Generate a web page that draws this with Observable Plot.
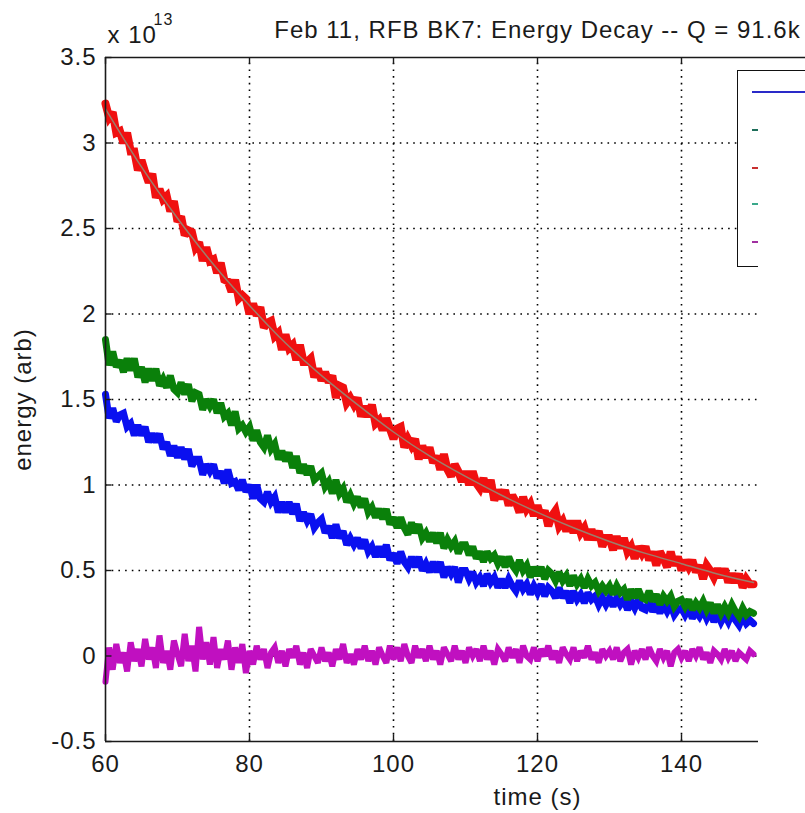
<!DOCTYPE html>
<html>
<head>
<meta charset="utf-8">
<script src="https://cdn.jsdelivr.net/npm/d3@7"></script>
<script src="https://cdn.jsdelivr.net/npm/@observablehq/plot@0.6"></script>
<style>
html,body{margin:0;padding:0;background:#fff;overflow:hidden}
#wrap{position:relative;width:805px;height:813px;overflow:hidden;background:#fff}
#legend{position:absolute;left:737px;top:70px;width:140px;height:197px;border:1.5px solid #111;background:#fff;box-sizing:border-box}
.lg{position:absolute;left:13.5px;height:2px}
#cover{position:absolute;left:758px;top:125px;width:80px;height:720px;background:#fff}
</style>
</head>
<body>
<div id="wrap"></div>
<script>
// ---- data ----
const timeStart = 60;      // s
const timeStep = 0.5;      // s between samples
const red = [
3.23,3.15,3.18,3.06,3.07,3.00,3.06,2.95,2.95,2.84,
2.90,2.83,2.77,2.82,2.68,2.73,2.67,2.69,2.60,2.66,
2.54,2.57,2.46,2.49,2.48,2.39,2.42,2.31,2.39,2.31,
2.32,2.24,2.30,2.20,2.19,2.13,2.20,2.09,2.11,2.09,
2.00,2.06,1.99,2.04,1.92,1.95,1.96,1.87,1.89,1.79,
1.88,1.80,1.82,1.73,1.82,1.72,1.72,1.74,1.63,1.68,
1.61,1.66,1.60,1.64,1.51,1.58,1.57,1.48,1.51,1.47,
1.51,1.40,1.46,1.40,1.47,1.36,1.38,1.32,1.39,1.33,
1.27,1.33,1.34,1.22,1.27,1.23,1.27,1.15,1.23,1.16,
1.22,1.13,1.17,1.09,1.18,1.09,1.05,1.12,1.08,1.02,
1.08,1.00,1.08,1.01,0.98,1.04,0.96,1.03,0.91,0.97,
0.92,0.97,0.88,0.94,0.90,0.84,0.93,0.86,0.89,0.82,
0.88,0.81,0.85,0.76,0.82,0.85,0.76,0.79,0.73,0.79,
0.72,0.79,0.72,0.75,0.68,0.74,0.68,0.73,0.64,0.69,
0.69,0.62,0.70,0.63,0.69,0.61,0.64,0.57,0.64,0.60,
0.64,0.56,0.61,0.53,0.61,0.57,0.52,0.61,0.53,0.58,
0.50,0.56,0.52,0.56,0.49,0.53,0.45,0.53,0.50,0.46,
0.51,0.46,0.51,0.43,0.48,0.43,0.48,0.40,0.45,0.42,
0.42];
const blue = [
1.53,1.39,1.45,1.37,1.41,1.42,1.34,1.36,1.29,1.35,
1.29,1.34,1.25,1.30,1.25,1.30,1.21,1.25,1.17,1.23,
1.16,1.22,1.15,1.21,1.11,1.15,1.15,1.06,1.12,1.08,
1.12,1.04,1.08,1.01,1.09,1.01,1.02,0.97,1.03,0.96,
1.00,0.92,1.00,0.92,0.90,0.96,0.90,0.93,0.84,0.90,
0.84,0.90,0.83,0.89,0.79,0.84,0.79,0.83,0.75,0.78,
0.80,0.72,0.76,0.69,0.77,0.69,0.73,0.65,0.69,0.65,
0.69,0.63,0.68,0.61,0.64,0.58,0.64,0.58,0.65,0.56,
0.60,0.54,0.61,0.55,0.52,0.58,0.52,0.58,0.50,0.54,
0.49,0.55,0.49,0.55,0.46,0.52,0.48,0.52,0.43,0.50,
0.50,0.45,0.49,0.43,0.46,0.41,0.48,0.43,0.46,0.40,
0.45,0.40,0.45,0.41,0.38,0.44,0.39,0.42,0.36,0.41,
0.37,0.42,0.35,0.40,0.38,0.34,0.40,0.34,0.38,0.31,
0.38,0.33,0.36,0.31,0.37,0.33,0.35,0.30,0.34,0.30,
0.34,0.29,0.34,0.30,0.33,0.27,0.32,0.28,0.33,0.28,
0.27,0.32,0.26,0.30,0.25,0.30,0.26,0.30,0.24,0.27,
0.28,0.24,0.28,0.22,0.26,0.23,0.27,0.22,0.26,0.20,
0.25,0.20,0.24,0.20,0.25,0.21,0.18,0.23,0.19,0.21,
0.19];
const green = [
1.85,1.70,1.78,1.69,1.73,1.66,1.74,1.67,1.74,1.63,
1.69,1.60,1.68,1.61,1.68,1.58,1.62,1.57,1.64,1.56,
1.54,1.60,1.53,1.59,1.49,1.54,1.53,1.44,1.50,1.46,
1.50,1.42,1.48,1.40,1.42,1.35,1.43,1.33,1.35,1.31,
1.34,1.26,1.32,1.25,1.22,1.29,1.21,1.24,1.15,1.20,
1.14,1.19,1.10,1.17,1.07,1.12,1.06,1.11,1.03,1.05,
1.07,0.99,1.02,0.95,1.03,0.95,0.98,0.90,0.94,0.89,
0.93,0.87,0.92,0.84,0.87,0.81,0.86,0.80,0.86,0.77,
0.81,0.75,0.81,0.75,0.71,0.78,0.72,0.77,0.69,0.72,
0.67,0.72,0.66,0.72,0.63,0.68,0.64,0.67,0.60,0.65,
0.65,0.59,0.64,0.57,0.61,0.55,0.61,0.57,0.59,0.54,
0.58,0.52,0.58,0.53,0.50,0.56,0.50,0.53,0.46,0.52,
0.47,0.52,0.45,0.50,0.48,0.44,0.49,0.44,0.47,0.41,
0.47,0.42,0.45,0.40,0.45,0.41,0.43,0.38,0.41,0.38,
0.41,0.36,0.41,0.37,0.39,0.33,0.39,0.34,0.39,0.34,
0.33,0.38,0.32,0.36,0.30,0.35,0.32,0.35,0.29,0.32,
0.33,0.29,0.33,0.27,0.31,0.28,0.32,0.27,0.31,0.25,
0.30,0.25,0.29,0.25,0.30,0.26,0.23,0.28,0.24,0.26,
0.25];
const magenta = [
-0.15,0.05,-0.08,0.07,-0.04,0.02,-0.09,0.08,-0.03,0.04,
-0.06,0.10,-0.02,0.05,-0.07,0.12,-0.04,0.03,-0.08,0.09,
0.01,-0.06,0.13,-0.03,0.06,-0.09,0.17,-0.02,0.08,-0.05,
0.11,-0.07,0.04,-0.02,0.09,-0.08,0.05,-0.04,0.07,-0.10,
0.03,-0.05,0.06,-0.02,0.04,-0.07,0.02,0.05,-0.04,0.03,
-0.06,0.04,-0.01,0.06,-0.05,0.02,-0.07,0.04,0.00,-0.04,
0.05,-0.03,0.02,-0.06,0.04,-0.02,0.07,-0.04,0.01,-0.05,
0.04,-0.02,0.06,-0.03,0.03,-0.05,0.05,0.00,-0.04,0.06,
-0.02,0.05,-0.03,0.07,0.00,-0.04,0.06,-0.01,0.04,-0.03,
0.06,-0.02,0.03,-0.05,0.05,0.01,-0.03,0.06,-0.02,0.03,
-0.04,0.05,0.00,0.04,-0.03,0.06,-0.02,0.03,-0.05,0.04,
0.01,-0.03,0.05,-0.01,0.04,-0.04,0.06,0.00,-0.02,0.05,
-0.03,0.04,0.00,0.06,-0.02,0.03,-0.04,0.05,0.01,-0.02,
0.05,-0.03,0.03,-0.01,0.06,-0.02,0.02,-0.04,0.04,0.00,
0.03,-0.02,0.05,-0.03,0.02,0.04,-0.05,0.03,-0.01,0.04,
-0.02,0.05,0.00,-0.03,0.04,-0.01,0.03,-0.06,0.02,0.04,
-0.01,0.03,-0.03,0.04,0.00,0.05,-0.02,0.02,-0.04,0.03,
0.01,-0.02,0.04,-0.01,0.03,-0.03,0.02,0.00,-0.02,0.03,
0.01];
const fitTime = [60,65,70,75,80,85,90,95,100,105,110,115,120,125,130,135,140,145,150];
const redFit  = [3.20,2.86,2.56,2.29,2.05,1.83,1.64,1.47,1.31,1.17,1.05,0.94,0.84,0.75,0.67,0.60,0.54,0.48,0.43];
const yTicks = [-0.5,0,0.5,1,1.5,2,2.5,3,3.5];
const yTickLabels = ["-0.5","0","0.5","1","1.5","2","2.5","3","3.5"];
const xTicks = [60,80,100,120,140];
const xTickLabels = ["60","80","100","120","140"];
const titleText = "Feb 11, RFB BK7: Energy Decay -- Q = 91.6k";
const xLabel = "time (s)";
const yLabel = "energy (arb)";
const legendColors = ["#2a2ac8","#1e6e5a","#c83030","#3aa88a","#a030a0"];

// ---- build rows ----
const rows = (arr) => arr.map((v, i) => ({t: timeStart + i * timeStep, v}));
const fitRows = fitTime.map((t, i) => ({t, v: redFit[i]}));

const FONT = "'Liberation Sans', Arial, Helvetica, sans-serif";
const ink = "#1a1a1a";
const grid = {stroke: "#000", strokeWidth: 1.6, strokeDasharray: "1.6,5.1"};
const band = {x: "t", y: "v", strokeLinejoin: "miter", strokeMiterlimit: 2.5};

const chart = Plot.plot({
  width: 805,
  height: 813,
  marginTop: 57,
  marginBottom: 72,
  marginLeft: 105,
  marginRight: 0,
  x: {domain: [60, 180], range: [105, 969], axis: null},
  y: {domain: [-0.5, 3.5], axis: null},
  style: {fontFamily: FONT, fontSize: "24px", letterSpacing: "1px", background: "#fff", color: ink},
  marks: [
    // dotted grid
    Plot.ruleY(yTicks.slice(1, -1), {x1: 60, x2: 150.6, ...grid}),
    Plot.ruleX(xTicks.slice(1), {y1: -0.5, y2: 3.5, ...grid}),
    // data
    Plot.line(rows(blue), {...band, stroke: "#0a10f0", strokeWidth: 7}),
    Plot.line(rows(green), {...band, stroke: "#0a800a", strokeWidth: 7}),
    Plot.line(rows(red), {...band, stroke: "#f01010", strokeWidth: 8}),
    Plot.line(rows(magenta), {...band, stroke: "#c010c0", strokeWidth: 6}),
    Plot.line(fitRows, {x: "t", y: "v", stroke: "#9c7e6c", strokeWidth: 1.5, curve: "natural"}),
    // axes frame
    Plot.ruleX([60], {y1: -0.5, y2: 3.5, stroke: ink, strokeWidth: 1.6}),
    Plot.ruleY([-0.5], {x1: 60, x2: 151, stroke: ink, strokeWidth: 1.6}),
    Plot.ruleY([3.5], {x1: 60, x2: 180, stroke: ink, strokeWidth: 1.6}),
    // inward ticks
    Plot.ruleY(yTicks, {x1: 60, x2: 60.9, stroke: ink, strokeWidth: 1.4}),
    Plot.ruleX(xTicks, {y1: -0.5, y2: -0.46, stroke: ink, strokeWidth: 1.4}),
    Plot.ruleX(xTicks, {y1: 3.5, y2: 3.46, stroke: ink, strokeWidth: 1.4}),
    // tick labels
    Plot.text(yTicks, {x: 60, y: d => d, text: (d, i) => yTickLabels[i], textAnchor: "end", dx: -9, fontSize: 24, fill: ink}),
    Plot.text(xTicks, {x: d => d, y: -0.5, text: (d, i) => xTickLabels[i], dy: 23, fontSize: 24, fill: ink}),
    // exponent
    Plot.text(["x 10"], {x: 60, y: 3.5, text: d => d, textAnchor: "start", dx: 2, dy: -22, fontSize: 24, fill: ink}),
    Plot.text(["13"], {x: 60, y: 3.5, text: d => d, textAnchor: "start", dx: 48, dy: -38, fontSize: 16, fill: ink}),
    // labels & title
    Plot.text([xLabel], {x: 120, y: -0.5, text: d => d, dy: 56, fontSize: 24, fill: ink}),
    Plot.text([yLabel], {x: 60, y: 1.5, text: d => d, rotate: -90, dx: -82, fontSize: 24, fill: ink}),
    Plot.text([titleText], {x: 120, y: 3.5, text: d => d, dy: -27, fontSize: 24, fill: ink})
  ]
});

const wrap = document.getElementById("wrap");
wrap.appendChild(chart);

// legend box (its right part lies outside the picture)
const legend = document.createElement("div");
legend.id = "legend";
const entryTops = [19.5, 57.5, 95.5, 131.5, 169.5];
legendColors.forEach((c, i) => {
  const s = document.createElement("div");
  s.className = "lg";
  s.style.top = entryTops[i] + "px";
  s.style.width = "120px";
  s.style.background = c;
  legend.appendChild(s);
});
wrap.appendChild(legend);
const cover = document.createElement("div");
cover.id = "cover";
wrap.appendChild(cover);
</script>
</body>
</html>
